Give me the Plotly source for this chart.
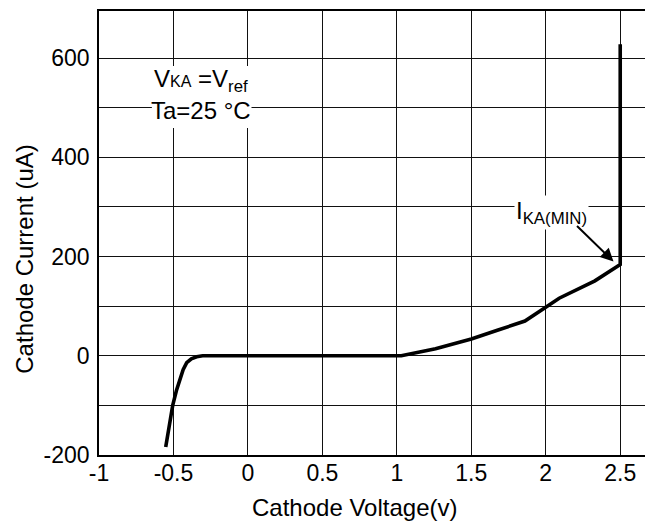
import plotly.graph_objects as go

# Data
voltage = [-0.552, -0.531, -0.505, -0.48, -0.458, -0.435, -0.411, -0.38, -0.344, -0.304,
           0.0, 0.5, 1.03, 1.26, 1.50, 1.68, 1.86, 2.0, 2.04, 2.09, 2.33, 2.5, 2.5]
current = [-184, -145, -100, -70, -48, -28, -14, -6, -2, 0,
           0, 0, 0, 14, 34, 52, 70, 98, 106, 116, 151, 184, 628]

x_ticks = [-1, -0.5, 0, 0.5, 1, 1.5, 2, 2.5]
x_ticktext = ["-1", "-0.5", "0", "0.5", "1", "1.5", "2", "2.5"]
y_ticks = [-200, -100, 0, 100, 200, 300, 400, 500, 600]
y_ticktext = ["-200", "", "0", "", "200", "", "400", "", "600"]

FONT = "Liberation Sans, Arial, sans-serif"

fig = go.Figure()
fig.add_trace(go.Scatter(x=voltage, y=current, mode="lines",
                         line=dict(color="black", width=3.6), showlegend=False,
                         hoverinfo="skip"))

fig.update_layout(
    width=645, height=515,
    margin=dict(l=91, r=1, t=2, b=68),
    paper_bgcolor="white", plot_bgcolor="white",
    font=dict(family=FONT, size=23, color="black"),
    xaxis=dict(range=[-1, 2.7], tickvals=x_ticks, ticktext=x_ticktext,
               showgrid=True, gridcolor="#111", gridwidth=1.2,
               showline=True, linecolor="black", linewidth=1.5, mirror=True,
               ticks="", zeroline=False, tickfont=dict(size=23), ticklabelstandoff=-3),
    yaxis=dict(range=[-200, 695], tickvals=y_ticks, ticktext=y_ticktext,
               showgrid=True, gridcolor="#111", gridwidth=1.2,
               showline=True, linecolor="black", linewidth=1.5, mirror=True,
               ticks="", zeroline=False, tickfont=dict(size=23), ticklabelstandoff=3),
)

# white backing box behind the condition label (hides grid lines, as in the reference)
fig.add_shape(type="rect", xref="x", yref="y", x0=-0.645, x1=0.024, y0=459, y1=584,
              fillcolor="white", line=dict(width=0), layer="between")

annotations = [
    dict(text="Cathode Voltage(v)", xref="paper", yref="paper", x=(355 - 99) / 553,
         y=(455 - 508) / 445, xanchor="center", yanchor="middle", showarrow=False,
         font=dict(size=24)),
    dict(text="Cathode Current (uA)", xref="paper", yref="paper", x=(24 - 99) / 553,
         y=(455 - 259) / 445, xanchor="center", yanchor="middle", showarrow=False,
         textangle=-90, font=dict(size=24)),
    dict(text="V<span style='font-size:16px'>KA</span> =V<sub>ref</sub>",
         xref="x", yref="y", x=-0.317, y=554, xanchor="center", yanchor="middle",
         showarrow=False, font=dict(size=24), borderpad=0),
    dict(text="Ta=25 °C",
         xref="x", yref="y", x=-0.317, y=495, xanchor="center", yanchor="middle",
         showarrow=False, font=dict(size=24), borderpad=0),
    dict(text="I<sub>KA(MIN)</sub>", xref="x", yref="y", x=2.038, y=288,
         xanchor="center", yanchor="middle", showarrow=False, bgcolor="white",
         font=dict(size=24)),
    dict(text="", xref="x", yref="y", x=2.455, y=190, ax=-38, ay=-37,
         showarrow=True, arrowhead=2, arrowsize=1.3, arrowwidth=2, arrowcolor="black"),
]
fig.update_layout(annotations=annotations)

fig.write_html("out.html")
